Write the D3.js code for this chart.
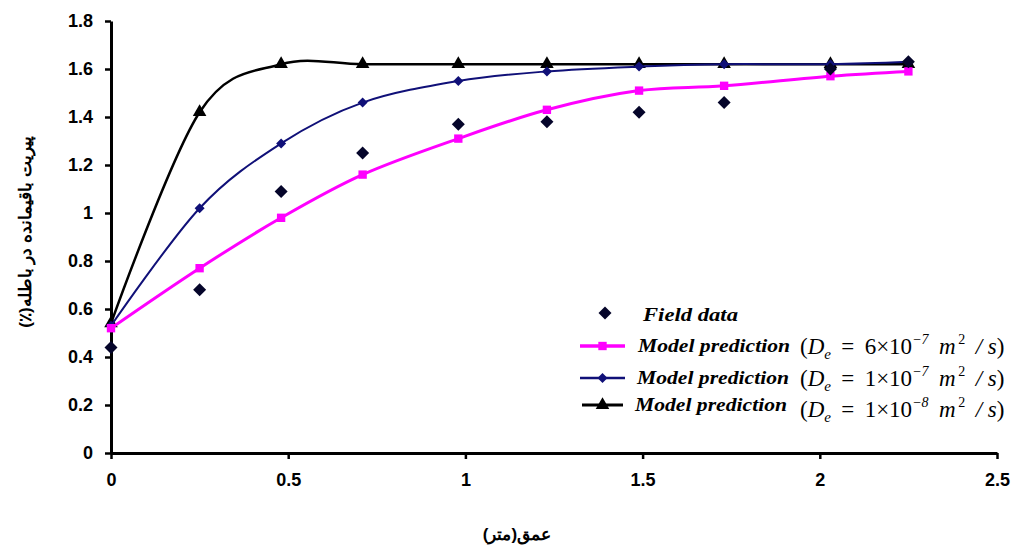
<!DOCTYPE html>
<meta charset="utf-8">
<style>
    body { margin: 0; background: #fff; }
    text { font-family: Arial, "Liberation Sans", sans-serif; }
    .tick text { font-size: 18px; font-weight: bold; fill: #000; }
    .tick line { stroke: #000; stroke-width: 2.5px; }
    .domain { stroke: #000; stroke-width: 3px; }
    .leg { font-family: "Liberation Serif", "Times New Roman", serif; font-style: italic; font-weight: bold; font-size: 19px; }
    .frm { font-family: "Liberation Serif", "Times New Roman", serif; font-size: 23px; }
    .ttl { font-weight: bold; font-size: 17px; }
</style>
<body>
<script src="https://cdn.jsdelivr.net/npm/d3@7"></script>
<script>
// depth values (m)
var depth = [0, 0.25, 0.48, 0.71, 0.98, 1.23, 1.49, 1.73, 2.03, 2.25];

// residual pyrite (%)
var fieldData = [0.44, 0.68, 1.09, 1.25, 1.37, 1.38, 1.42, 1.46, 1.60, 1.63];
var model6e7 = [0.52, 0.77, 0.98, 1.16, 1.31, 1.43, 1.51, 1.53, 1.57, 1.59];
var model1e7 = [0.53, 1.02, 1.29, 1.46, 1.55, 1.59, 1.61, 1.62, 1.62, 1.63];
var model1e8 = [0.54, 1.42, 1.62, 1.62, 1.62, 1.62, 1.62, 1.62, 1.62, 1.62];

var xTicks = [0, 0.5, 1, 1.5, 2, 2.5];
var yTicks = [0, 0.2, 0.4, 0.6, 0.8, 1, 1.2, 1.4, 1.6, 1.8];

var W = 1013, H = 546;
var margin = {top: 21, right: 16, bottom: 93, left: 111};

var svg = d3.select("body").append("svg")
    .attr("width", W)
    .attr("height", H);

var x = d3.scaleLinear().domain([0, 2.5]).range([margin.left, W - margin.right]);
var y = d3.scaleLinear().domain([0, 1.8]).range([H - margin.bottom, margin.top]);

// axes
var xAxis = svg.append("g")
    .attr("transform", "translate(0," + y(0) + ")")
    .call(d3.axisBottom(x).tickValues(xTicks).tickSize(6).tickSizeOuter(0).tickPadding(14)
        .tickFormat(function(d) { return String(d); }));

var yAxis = svg.append("g")
    .attr("transform", "translate(" + x(0) + ",0)")
    .call(d3.axisLeft(y).tickValues(yTicks).tickSize(6).tickSizeOuter(0).tickPadding(12)
        .tickFormat(function(d) { return String(d); }));

xAxis.select(".domain").attr("fill", "none");
yAxis.select(".domain").attr("fill", "none");

// rotated square = diamond like excel's marker
var diamond = function(s) {
    return "M0," + (-s) + "L" + s + ",0L0," + s + "L" + (-s) + ",0Z";
};

// model series
var series = [
    {name: "1e-8", vals: model1e8, color: "#000000", width: 2.5, marker: d3.symbol().type(d3.symbolTriangle).size(80)()},
    {name: "1e-7", vals: model1e7, color: "#101078", width: 2, marker: diamond(5)},
    {name: "6e-7", vals: model6e7, color: "#ff00ff", width: 3, marker: d3.symbol().type(d3.symbolSquare).size(70)()}
];

var line = d3.line()
    .x(function(d) { return x(d[0]); })
    .y(function(d) { return y(d[1]); })
    .curve(d3.curveCardinal.tension(0));

series.forEach(function(s) {
    var pts = depth.map(function(d, i) { return [d, s.vals[i]]; });
    svg.append("path")
        .datum(pts)
        .attr("fill", "none")
        .attr("stroke", s.color)
        .attr("stroke-width", s.width)
        .attr("d", line);
    svg.selectAll(null).data(pts).enter().append("path")
        .attr("transform", function(d) { return "translate(" + x(d[0]) + "," + y(d[1]) + ")"; })
        .attr("d", s.marker)
        .attr("fill", s.color);
});

// field data
svg.selectAll(null).data(depth).enter().append("path")
    .attr("transform", function(d, i) { return "translate(" + x(d) + "," + y(fieldData[i]) + ")"; })
    .attr("d", diamond(6.5))
    .attr("fill", "#05052a");

// legend
var leg = svg.append("g");
leg.append("path")
    .attr("transform", "translate(605,313)")
    .attr("d", diamond(6.5))
    .attr("fill", "#05052a");
leg.append("text").attr("class", "leg")
    .attr("x", 643).attr("y", 321)
    .attr("textLength", 95).attr("lengthAdjust", "spacingAndGlyphs")
    .text("Field data");

var legRows = [
    {s: series[2], y: 346, x1: 580, x2: 625, tx: 638, fy: 354, coef: "6", exp: "\u22127"},
    {s: series[1], y: 378, x1: 580, x2: 625, tx: 637, fy: 386, coef: "1", exp: "\u22127"},
    {s: series[0], y: 405, x1: 582, x2: 623, tx: 635, fy: 417, coef: "1", exp: "\u22128"}
];

legRows.forEach(function(r) {
    leg.append("line")
        .attr("x1", r.x1).attr("x2", r.x2)
        .attr("y1", r.y).attr("y2", r.y)
        .attr("stroke", r.s.color)
        .attr("stroke-width", r.s.width + 0.5);
    leg.append("path")
        .attr("transform", "translate(" + ((r.x1 + r.x2) / 2) + "," + r.y + ")")
        .attr("d", r.s.marker)
        .attr("fill", r.s.color);
    leg.append("text").attr("class", "leg")
        .attr("x", r.tx).attr("y", r.y + 6)
        .attr("textLength", 152).attr("lengthAdjust", "spacingAndGlyphs")
        .text("Model prediction");

    var t = leg.append("text").attr("class", "frm")
        .attr("x", 800).attr("y", r.fy);
    t.append("tspan").text("(");
    t.append("tspan").attr("font-style", "italic").text("D");
    t.append("tspan").attr("font-style", "italic").attr("font-size", "15px").attr("dy", 5).text("e");
    t.append("tspan").attr("dy", -5).text("\u2009 = \u2009" + r.coef + "\u00d710");
    t.append("tspan").attr("font-style", "italic").attr("font-size", "14px").attr("dy", -10).text(r.exp);
    t.append("tspan").attr("font-style", "italic").attr("dy", 10).text("\u2009 m");
    t.append("tspan").attr("font-size", "14px").attr("dy", -10).text("\u20092");
    t.append("tspan").attr("font-style", "italic").attr("dy", 10).text("\u2009 / s");
    t.append("tspan").text(")");
});

// axis titles
svg.append("text").attr("class", "ttl")
    .attr("x", 517).attr("y", 540)
    .attr("text-anchor", "middle")
    .attr("direction", "rtl")
    .text("عمق(متر)");

svg.append("text").attr("class", "ttl")
    .attr("transform", "translate(31,232) rotate(-90)")
    .attr("text-anchor", "middle")
    .attr("direction", "rtl")
    .text("پیریت باقیمانده در باطله(٪)");
</script>
